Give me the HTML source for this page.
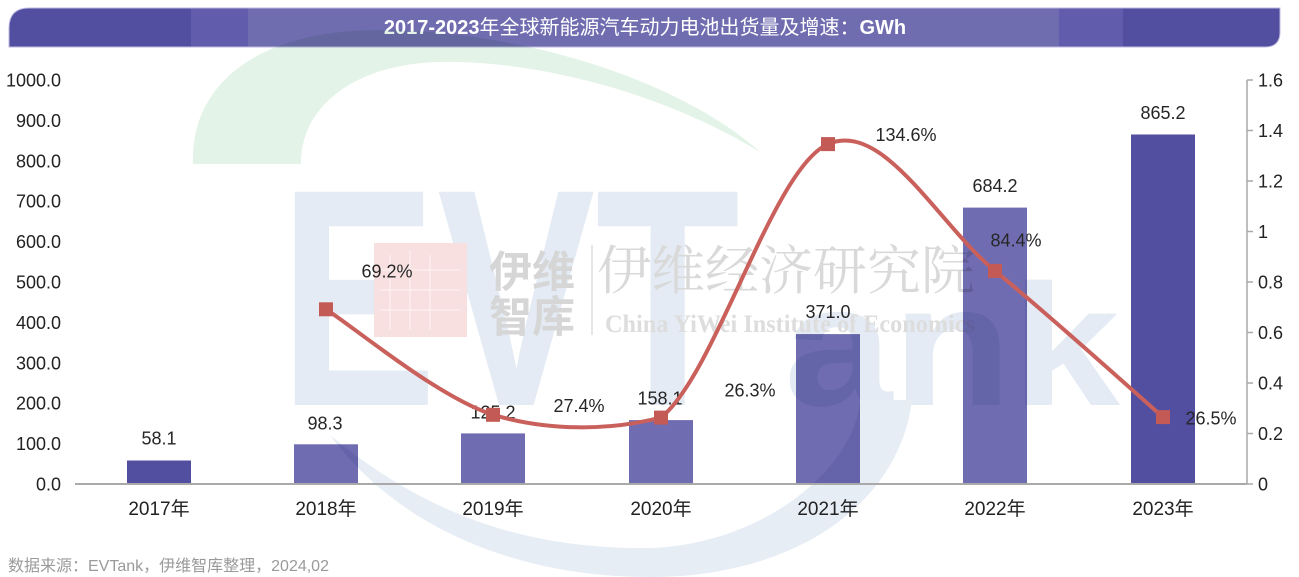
<!DOCTYPE html>
<html>
<head>
<meta charset="utf-8">
<style>
  html,body{margin:0;padding:0;background:#fff;}
  body{width:1299px;height:577px;overflow:hidden;}
  svg{display:block;}
  .t{font-family:"Liberation Sans","Noto Sans CJK SC",sans-serif;}
</style>
</head>
<body>
<svg width="1299" height="577" viewBox="0 0 1299 577" xmlns="http://www.w3.org/2000/svg">
  <!-- Title bar -->
  <defs>
    <clipPath id="tb">
      <path d="M29,8 L1280,8 L1280,32 Q1280,47 1265,47 L9,47 L9,28 Q9,8 29,8 Z"/>
    </clipPath>
  </defs>
  <g clip-path="url(#tb)">
    <rect x="0" y="8" width="191" height="39" fill="#524ea0"/>
    <rect x="191" y="8" width="57" height="39" fill="#615cab"/>
    <rect x="248" y="8" width="811" height="39" fill="#706cb0"/>
    <rect x="1059" y="8" width="64" height="39" fill="#615cab"/>
    <rect x="1123" y="8" width="170" height="39" fill="#524ea0"/>
  </g>
  <path d="M29,8 L1280,8 L1280,32 Q1280,47 1265,47 L9,47 L9,28 Q9,8 29,8 Z" fill="none" stroke="#bdb9e0" stroke-width="1"/>
  <text class="t" x="645" y="34" text-anchor="middle" font-size="20" fill="#ffffff"><tspan font-weight="bold">2017-2023</tspan>年全球新能源汽车动力电池出货量及增速：<tspan font-weight="bold">GWh</tspan></text>

  <!-- Bars -->
  <rect x="127" y="460.5" width="64" height="23.5" fill="#524ea0"/>
  <rect x="294" y="444.3" width="64" height="39.7" fill="#706cb1"/>
  <rect x="461" y="433.4" width="64" height="50.6" fill="#706cb1"/>
  <rect x="629" y="420.1" width="64" height="63.9" fill="#706cb1"/>
  <rect x="796" y="334.1" width="64" height="149.9" fill="#706cb1"/>
  <rect x="963" y="207.6" width="64" height="276.4" fill="#706cb1"/>
  <rect x="1131" y="134.5" width="64" height="349.5" fill="#524ea0"/>

  <!-- Watermark (multiply) -->
  <g style="mix-blend-mode:multiply">
    <path d="M193,164 C190,90 250,30 380,30 C520,30 680,80 760,152 C650,85 520,60 440,62 C350,64 300,110 301,164 Z" fill="#e3f3e7"/>
    <text x="279" y="405" font-family="Liberation Sans, sans-serif" font-weight="bold" font-size="310" textLength="461" lengthAdjust="spacingAndGlyphs" fill="#e4ebf4">EVT</text>
    <text x="784" y="405" font-family="Liberation Sans, sans-serif" font-weight="bold" font-size="173" textLength="336" lengthAdjust="spacingAndGlyphs" fill="#e4ebf4">ank</text>
    <path d="M330,435 C400,530 520,577 650,577 C800,577 900,500 912,400 L860,400 C855,470 760,545 650,548 C520,550 420,510 330,435 Z" fill="#e6edf5"/>
    <rect x="374" y="243" width="93" height="94" fill="#f8e0e0"/>
    <g stroke="#fbeeee" stroke-width="1.5" fill="none">
      <line x1="390" y1="255" x2="390" y2="330"/>
      <line x1="410" y1="250" x2="410" y2="330"/>
      <line x1="430" y1="255" x2="430" y2="330"/>
      <line x1="380" y1="270" x2="460" y2="270"/>
      <line x1="380" y1="290" x2="460" y2="290"/>
      <line x1="380" y1="310" x2="460" y2="310"/>
    </g>
    <text x="489" y="287" font-family="Noto Sans CJK SC, sans-serif" font-weight="bold" font-size="43" fill="#d6d6d6">伊维</text>
    <text x="489" y="332" font-family="Noto Sans CJK SC, sans-serif" font-weight="bold" font-size="43" fill="#d6d6d6">智库</text>
    <line x1="592" y1="245" x2="592" y2="335" stroke="#dedede" stroke-width="1.5"/>
    <text x="597" y="289" font-family="Noto Serif CJK SC, serif" font-size="53" textLength="378" lengthAdjust="spacingAndGlyphs" fill="#d9d9d9">伊维经济研究院</text>
    <text x="605" y="332" font-family="Liberation Serif, serif" font-weight="bold" font-size="25" textLength="370" lengthAdjust="spacingAndGlyphs" fill="#dddddd">China YiWei Institute of Economics</text>
  </g>

  <!-- Baseline & right axis -->
  <line x1="75" y1="484" x2="1247" y2="484" stroke="#a9a9a9" stroke-width="2"/>
  <line x1="1247" y1="80" x2="1247" y2="484" stroke="#a9a9a9" stroke-width="1.5"/>
  <g stroke="#a9a9a9" stroke-width="1.5">
    <line x1="1247" y1="80" x2="1253" y2="80"/>
    <line x1="1247" y1="130.5" x2="1253" y2="130.5"/>
    <line x1="1247" y1="181" x2="1253" y2="181"/>
    <line x1="1247" y1="231.5" x2="1253" y2="231.5"/>
    <line x1="1247" y1="282" x2="1253" y2="282"/>
    <line x1="1247" y1="332.5" x2="1253" y2="332.5"/>
    <line x1="1247" y1="383" x2="1253" y2="383"/>
    <line x1="1247" y1="433.5" x2="1253" y2="433.5"/>
    <line x1="1247" y1="484" x2="1253" y2="484"/>
  </g>

  <!-- Left axis labels -->
  <g class="t" font-size="18" fill="#222" text-anchor="end">
    <text x="61" y="490.5">0.0</text>
    <text x="61" y="450.1">100.0</text>
    <text x="61" y="409.7">200.0</text>
    <text x="61" y="369.3">300.0</text>
    <text x="61" y="328.9">400.0</text>
    <text x="61" y="288.5">500.0</text>
    <text x="61" y="248.1">600.0</text>
    <text x="61" y="207.7">700.0</text>
    <text x="61" y="167.3">800.0</text>
    <text x="61" y="126.9">900.0</text>
    <text x="61" y="86.5">1000.0</text>
  </g>
  <!-- Right axis labels -->
  <g class="t" font-size="18" fill="#222">
    <text x="1258" y="490.5">0</text>
    <text x="1258" y="440">0.2</text>
    <text x="1258" y="389.5">0.4</text>
    <text x="1258" y="339">0.6</text>
    <text x="1258" y="288.5">0.8</text>
    <text x="1258" y="238">1</text>
    <text x="1258" y="187.5">1.2</text>
    <text x="1258" y="137">1.4</text>
    <text x="1258" y="86.5">1.6</text>
  </g>

  <!-- Category labels -->
  <g class="t" font-size="19" fill="#222" text-anchor="middle">
    <text x="159" y="515">2017年</text>
    <text x="326" y="515">2018年</text>
    <text x="493" y="515">2019年</text>
    <text x="661" y="515">2020年</text>
    <text x="828" y="515">2021年</text>
    <text x="995" y="515">2022年</text>
    <text x="1163" y="515">2023年</text>
  </g>

  <!-- Bar value labels -->
  <g class="t" font-size="18" fill="#262626" text-anchor="middle">
    <text x="159" y="444.5">58.1</text>
    <text x="325" y="429.5">98.3</text>
    <text x="493" y="418.5">125.2</text>
    <text x="660" y="404.5">158.1</text>
    <text x="828" y="318">371.0</text>
    <text x="995" y="192">684.2</text>
    <text x="1163" y="119">865.2</text>
  </g>

  <!-- Growth line -->
  <path d="M326,309.3 C353.8,326.9 437.2,396.75 493,414.8 C548,431 608,431 661,417.6 C716.8,372.5 772.3,168.6 828,144.1 C883.7,119.6 939.2,225.4 995,270.9 C1050.8,316.4 1135,392.7 1163,417.1" fill="none" stroke="#c9605b" stroke-width="4" stroke-linecap="round"/>
  <g fill="#c45a55">
    <rect x="319" y="302.3" width="14" height="14"/>
    <rect x="486" y="407.8" width="14" height="14"/>
    <rect x="654" y="410.6" width="14" height="14"/>
    <rect x="821" y="137.1" width="14" height="14"/>
    <rect x="988" y="263.9" width="14" height="14"/>
    <rect x="1156" y="410.1" width="14" height="14"/>
  </g>

  <!-- Percent labels -->
  <g class="t" font-size="18" fill="#262626" text-anchor="middle">
    <text x="387" y="277.5">69.2%</text>
    <text x="579" y="412">27.4%</text>
    <text x="750" y="396.5">26.3%</text>
    <text x="906" y="141">134.6%</text>
    <text x="1016" y="246.5">84.4%</text>
    <text x="1211" y="424.5">26.5%</text>
  </g>

  <!-- Source -->
  <text class="t" x="8" y="571" font-size="16" fill="#9a9a9a">数据来源：EVTank，伊维智库整理，2024,02</text>
</svg>
</body>
</html>
